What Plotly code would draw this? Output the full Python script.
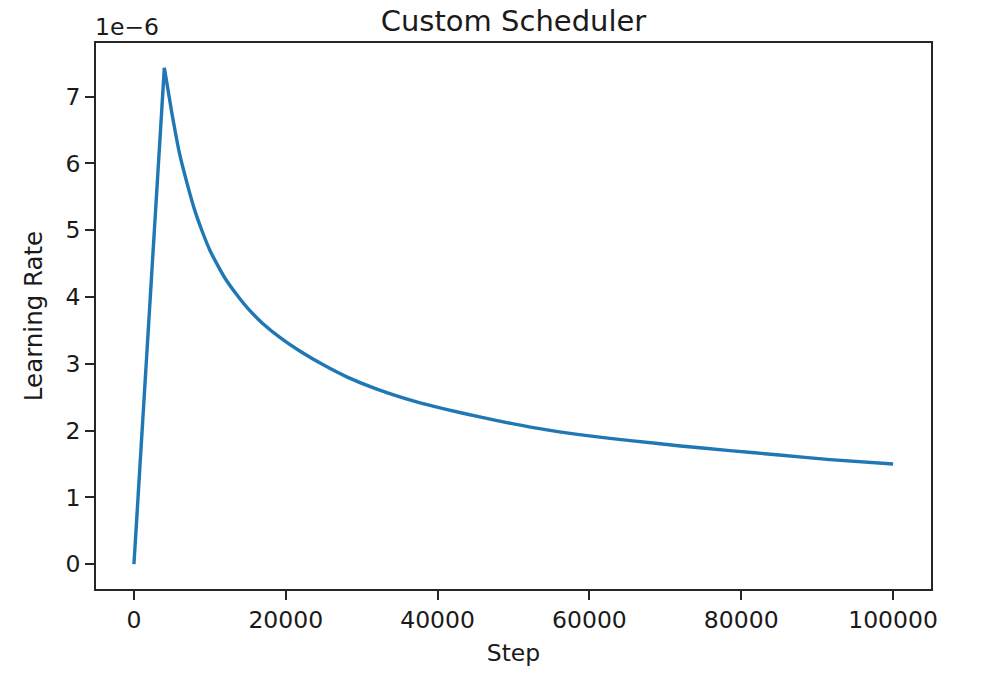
import plotly.graph_objects as go

# Values
steps = [0, 4000, 5000, 6000, 7000, 8000, 9000, 10000, 11000, 12000, 13500, 15000,
         17000, 19400, 22000, 25000, 28100, 32000, 36900, 41000, 45700, 50000,
         54400, 60000, 65400, 72000, 78500, 85000, 91700, 100000]
learning_rate = [0, 7.43e-6, 6.75e-6, 6.15e-6, 5.70e-6, 5.30e-6, 4.98e-6, 4.70e-6,
                 4.48e-6, 4.28e-6, 4.04e-6, 3.83e-6, 3.60e-6, 3.38e-6, 3.18e-6,
                 2.98e-6, 2.80e-6, 2.62e-6, 2.44e-6, 2.32e-6, 2.20e-6, 2.10e-6,
                 2.01e-6, 1.92e-6, 1.85e-6, 1.77e-6, 1.70e-6, 1.635e-6, 1.565e-6, 1.50e-6]
x_ticks = [0, 20000, 40000, 60000, 80000, 100000]
y_ticks = [0, 1e-6, 2e-6, 3e-6, 4e-6, 5e-6, 6e-6, 7e-6]
y_tick_labels = ["0", "1", "2", "3", "4", "5", "6", "7"]

FONT = "DejaVu Sans"
TICK_SIZE = 23.5
TEXT_COLOR = "#1a1a1a"
LINE_COLOR = "#1f77b4"

peak = learning_rate.index(max(learning_rate))

fig = go.Figure()
# warm-up ramp (straight)
fig.add_trace(go.Scatter(x=steps[:peak + 1], y=learning_rate[:peak + 1], mode="lines",
                         line=dict(color=LINE_COLOR, width=3.4), showlegend=False))
# decay (smooth)
fig.add_trace(go.Scatter(x=steps[peak:], y=learning_rate[peak:], mode="lines",
                         line=dict(color=LINE_COLOR, width=3.4, shape="spline", smoothing=0.6),
                         showlegend=False))

axis_common = dict(showline=True, linecolor="#262626", linewidth=1.8, mirror=True,
                   ticks="outside", ticklen=9, tickwidth=1.8, tickcolor="#262626",
                   showgrid=False, zeroline=False,
                   tickfont=dict(family=FONT, size=TICK_SIZE, color=TEXT_COLOR))

x_min, x_max = min(steps), max(steps)
y_min, y_max = min(learning_rate), max(learning_rate)
x_pad = (x_max - x_min) * 0.05
y_pad = (y_max - y_min) * 0.05

fig.update_xaxes(range=[x_min - x_pad, x_max + x_pad], tickvals=x_ticks,
                 ticktext=[str(v) for v in x_ticks],
                 title=dict(text="Step", font=dict(family=FONT, size=TICK_SIZE, color=TEXT_COLOR),
                            standoff=11),
                 **axis_common)
fig.update_yaxes(range=[y_min - y_pad, y_max + y_pad], tickvals=y_ticks,
                 ticktext=y_tick_labels,
                 title=dict(text="Learning Rate", font=dict(family=FONT, size=24.5, color=TEXT_COLOR),
                            standoff=16),
                 **axis_common)

fig.add_annotation(text="1e\u22126", xref="paper", yref="paper", x=0, y=1,
                   xanchor="left", yanchor="bottom", showarrow=False, xshift=-3, yshift=0,
                   font=dict(family=FONT, size=TICK_SIZE, color=TEXT_COLOR))

W, H = 975, 665
fig.update_layout(
    width=W, height=H,
    margin=dict(l=88, r=52, t=35, b=84),
    paper_bgcolor="white", plot_bgcolor="white",
    title=dict(text="Custom Scheduler", x=505.5 / W, xanchor="center",
               y=1, yanchor="top", yref="container", pad=dict(t=3, b=0),
               font=dict(family=FONT, size=29, color=TEXT_COLOR)),
)

fig.write_html("out.html")
